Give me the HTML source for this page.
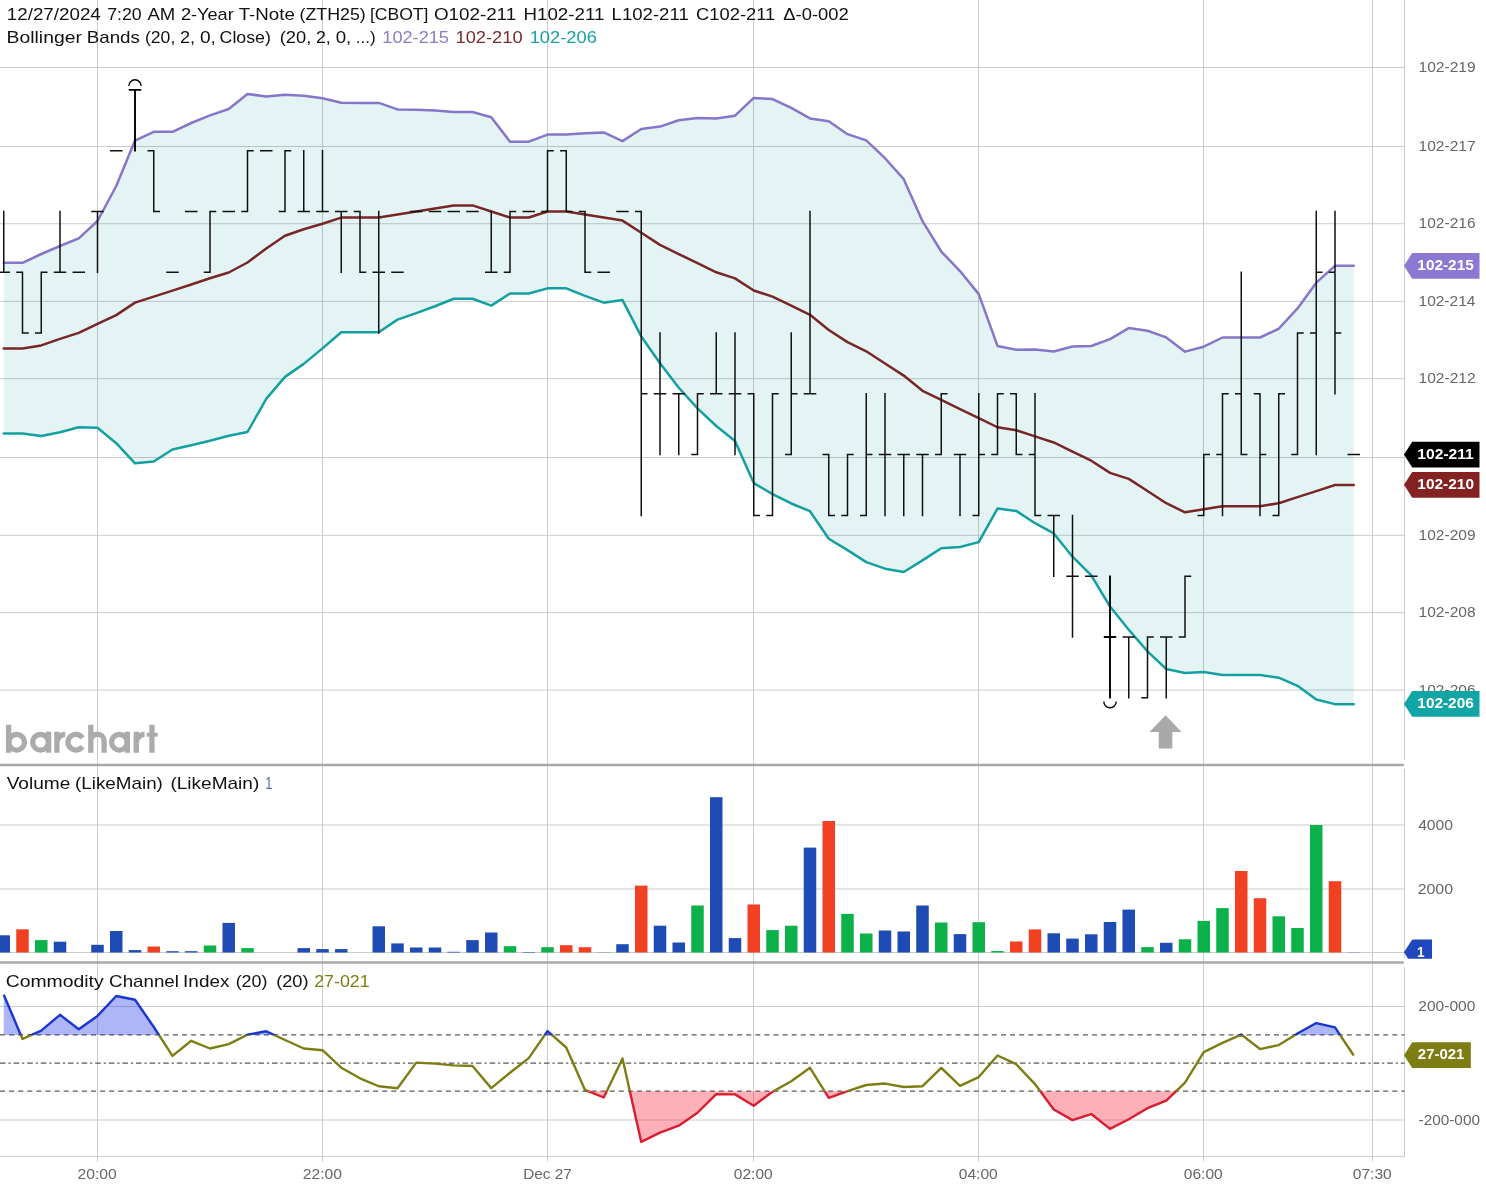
<!DOCTYPE html>
<html><head><meta charset="utf-8"><title>Chart</title><style>html,body{margin:0;padding:0;background:#fff}body{width:1486px;height:1191px;overflow:hidden}svg{display:block;will-change:transform}</style></head><body>
<svg width="1486" height="1191" viewBox="0 0 1486 1191" font-family="Liberation Sans, sans-serif">
<rect width="1486" height="1191" fill="#fff"/>
<g stroke="#cbcbcb" stroke-width="1" fill="none">
<path d="M0 67.5H1404.0"/>
<path d="M0 146.5H1404.0"/>
<path d="M0 223.74H1404.0"/>
<path d="M0 301.4H1404.0"/>
<path d="M0 378.7H1404.0"/>
<path d="M0 457.5H1404.0"/>
<path d="M0 535.3H1404.0"/>
<path d="M0 612.6H1404.0"/>
<path d="M0 690.0H1404.0"/>
<path d="M0 825.0H1404.0"/>
<path d="M0 889.0H1404.0"/>
<path d="M0 952.5H1404.0"/>
<path d="M0 1006.5H1404.0"/>
<path d="M0 1120.0H1404.0"/>
<path d="M97.5 0V1161.5"/>
<path d="M322.5 0V1161.5"/>
<path d="M547.5 0V1161.5"/>
<path d="M753.5 0V1161.5"/>
<path d="M978.5 0V1161.5"/>
<path d="M1203.5 0V1161.5"/>
<path d="M1372.5 0V1161.5"/>
</g>
<polygon points="3.75,262.80 22.50,262.80 41.25,254.00 60.00,246.00 78.75,238.30 97.50,221.00 116.25,186.00 135.00,140.60 153.75,131.80 172.50,131.80 191.25,123.00 210.00,115.40 228.75,109.00 247.50,94.00 266.25,96.50 285.00,94.80 303.75,95.80 322.50,98.30 341.25,102.80 360.00,102.88 378.75,102.88 397.50,109.42 416.25,109.78 435.00,110.62 453.75,112.03 472.50,112.03 491.25,117.32 510.00,141.64 528.75,141.64 547.50,134.60 566.25,134.60 585.00,133.20 603.75,132.47 622.50,141.12 641.25,129.07 660.00,126.58 678.75,120.31 697.50,117.91 716.25,118.50 735.00,115.70 753.75,97.91 772.50,99.06 791.25,107.90 810.00,118.42 828.75,121.30 847.50,134.17 866.25,140.38 885.00,158.21 903.75,179.20 922.50,221.14 941.25,251.52 960.00,271.08 978.75,294.16 997.50,345.93 1016.25,349.65 1035.00,349.55 1053.75,351.48 1072.50,346.46 1091.25,346.00 1110.00,339.12 1128.75,328.06 1147.50,330.72 1166.25,337.44 1185.00,351.65 1203.75,346.67 1222.50,337.50 1241.25,337.50 1260.00,337.50 1278.75,328.75 1297.50,308.43 1316.25,282.64 1335.00,265.84 1353.75,265.84 1353.75,704.14 1335.00,704.14 1316.25,699.50 1297.50,685.86 1278.75,677.70 1260.00,675.03 1241.25,675.03 1222.50,675.03 1203.75,671.94 1185.00,673.03 1166.25,669.01 1147.50,651.42 1128.75,629.76 1110.00,606.55 1091.25,575.36 1072.50,556.66 1053.75,533.41 1035.00,523.18 1016.25,510.92 997.50,508.57 978.75,542.10 960.00,546.95 941.25,548.28 922.50,560.42 903.75,571.97 885.00,568.65 866.25,562.17 847.50,550.15 828.75,538.70 810.00,511.19 791.25,503.48 772.50,494.08 753.75,483.08 735.00,440.97 716.25,426.02 697.50,408.38 678.75,387.74 660.00,363.24 641.25,336.44 622.50,300.08 603.75,302.65 585.00,295.84 566.25,288.36 547.50,288.36 528.75,293.47 510.00,293.47 491.25,305.64 472.50,298.77 453.75,298.77 435.00,306.26 416.25,313.18 397.50,319.62 378.75,332.24 360.00,332.24 341.25,332.20 322.50,348.40 303.75,363.90 285.00,376.90 266.25,398.90 247.50,432.00 228.75,435.70 210.00,440.70 191.25,445.20 172.50,449.50 153.75,461.50 135.00,463.30 116.25,443.20 97.50,427.70 78.75,427.20 60.00,432.20 41.25,436.00 22.50,433.50 3.75,433.50" fill="#0096a0" fill-opacity="0.105"/>
<polyline points="3.75,262.80 22.50,262.80 41.25,254.00 60.00,246.00 78.75,238.30 97.50,221.00 116.25,186.00 135.00,140.60 153.75,131.80 172.50,131.80 191.25,123.00 210.00,115.40 228.75,109.00 247.50,94.00 266.25,96.50 285.00,94.80 303.75,95.80 322.50,98.30 341.25,102.80 360.00,102.88 378.75,102.88 397.50,109.42 416.25,109.78 435.00,110.62 453.75,112.03 472.50,112.03 491.25,117.32 510.00,141.64 528.75,141.64 547.50,134.60 566.25,134.60 585.00,133.20 603.75,132.47 622.50,141.12 641.25,129.07 660.00,126.58 678.75,120.31 697.50,117.91 716.25,118.50 735.00,115.70 753.75,97.91 772.50,99.06 791.25,107.90 810.00,118.42 828.75,121.30 847.50,134.17 866.25,140.38 885.00,158.21 903.75,179.20 922.50,221.14 941.25,251.52 960.00,271.08 978.75,294.16 997.50,345.93 1016.25,349.65 1035.00,349.55 1053.75,351.48 1072.50,346.46 1091.25,346.00 1110.00,339.12 1128.75,328.06 1147.50,330.72 1166.25,337.44 1185.00,351.65 1203.75,346.67 1222.50,337.50 1241.25,337.50 1260.00,337.50 1278.75,328.75 1297.50,308.43 1316.25,282.64 1335.00,265.84 1353.75,265.84" fill="none" stroke="#8676c8" stroke-width="2.5" stroke-linejoin="round" stroke-linecap="round"/>
<polyline points="3.75,433.50 22.50,433.50 41.25,436.00 60.00,432.20 78.75,427.20 97.50,427.70 116.25,443.20 135.00,463.30 153.75,461.50 172.50,449.50 191.25,445.20 210.00,440.70 228.75,435.70 247.50,432.00 266.25,398.90 285.00,376.90 303.75,363.90 322.50,348.40 341.25,332.20 360.00,332.24 378.75,332.24 397.50,319.62 416.25,313.18 435.00,306.26 453.75,298.77 472.50,298.77 491.25,305.64 510.00,293.47 528.75,293.47 547.50,288.36 566.25,288.36 585.00,295.84 603.75,302.65 622.50,300.08 641.25,336.44 660.00,363.24 678.75,387.74 697.50,408.38 716.25,426.02 735.00,440.97 753.75,483.08 772.50,494.08 791.25,503.48 810.00,511.19 828.75,538.70 847.50,550.15 866.25,562.17 885.00,568.65 903.75,571.97 922.50,560.42 941.25,548.28 960.00,546.95 978.75,542.10 997.50,508.57 1016.25,510.92 1035.00,523.18 1053.75,533.41 1072.50,556.66 1091.25,575.36 1110.00,606.55 1128.75,629.76 1147.50,651.42 1166.25,669.01 1185.00,673.03 1203.75,671.94 1222.50,675.03 1241.25,675.03 1260.00,675.03 1278.75,677.70 1297.50,685.86 1316.25,699.50 1335.00,704.14 1353.75,704.14" fill="none" stroke="#14a0a0" stroke-width="2.5" stroke-linejoin="round" stroke-linecap="round"/>
<polyline points="3.75,348.40 22.50,348.40 41.25,345.40 60.00,338.90 78.75,332.90 97.50,323.80 116.25,315.10 135.00,302.60 153.75,296.60 172.50,290.60 191.25,284.50 210.00,278.30 228.75,272.50 247.50,262.50 266.25,248.50 285.00,235.80 303.75,229.30 322.50,223.70 341.25,217.60 360.00,217.56 378.75,217.56 397.50,214.52 416.25,211.48 435.00,208.44 453.75,205.40 472.50,205.40 491.25,211.48 510.00,217.56 528.75,217.56 547.50,211.48 566.25,211.48 585.00,214.52 603.75,217.56 622.50,220.60 641.25,232.75 660.00,244.91 678.75,254.03 697.50,263.14 716.25,272.26 735.00,278.34 753.75,290.49 772.50,296.57 791.25,305.69 810.00,314.81 828.75,330.00 847.50,342.16 866.25,351.27 885.00,363.43 903.75,375.59 922.50,390.78 941.25,399.90 960.00,409.02 978.75,418.13 997.50,427.25 1016.25,430.29 1035.00,436.37 1053.75,442.44 1072.50,451.56 1091.25,460.68 1110.00,472.83 1128.75,478.91 1147.50,491.07 1166.25,503.22 1185.00,512.34 1203.75,509.30 1222.50,506.26 1241.25,506.26 1260.00,506.26 1278.75,503.22 1297.50,497.15 1316.25,491.07 1335.00,484.99 1353.75,484.99" fill="none" stroke="#782626" stroke-width="2.5" stroke-linejoin="round" stroke-linecap="round"/>
<path d="M3.75 210.73V273.01M-2.50 272.26H3.75M3.75 272.26H10.00M22.50 271.51V333.79M16.25 272.26H22.50M22.50 333.04H28.75M41.25 271.51V333.79M35.00 333.04H41.25M41.25 272.26H47.50M60.00 210.73V273.01M53.75 272.26H60.00M60.00 272.26H66.25M72.50 272.26H78.75M78.75 272.26H85.00M97.50 210.73V273.01M91.25 211.48H97.50M97.50 211.48H103.75M110.00 150.70H116.25M116.25 150.70H122.50M153.75 149.95V212.23M147.50 150.70H153.75M153.75 211.48H160.00M166.25 272.26H172.50M172.50 272.26H178.75M185.00 211.48H191.25M191.25 211.48H197.50M210.00 210.73V273.01M203.75 272.26H210.00M210.00 211.48H216.25M222.50 211.48H228.75M228.75 211.48H235.00M247.50 149.95V212.23M241.25 211.48H247.50M247.50 150.70H253.75M260.00 150.70H266.25M266.25 150.70H272.50M285.00 149.95V212.23M278.75 211.48H285.00M285.00 150.70H291.25M303.75 149.95V212.23M297.50 211.48H303.75M303.75 211.48H310.00M322.50 149.95V212.23M316.25 211.48H322.50M322.50 211.48H328.75M341.25 210.73V273.01M335.00 211.48H341.25M341.25 211.48H347.50M360.00 210.73V273.01M353.75 211.48H360.00M360.00 272.26H366.25M378.75 210.73V333.79M372.50 272.26H378.75M378.75 272.26H385.00M391.25 272.26H397.50M397.50 272.26H403.75M410.00 211.48H416.25M416.25 211.48H422.50M428.75 211.48H435.00M435.00 211.48H441.25M447.50 211.48H453.75M453.75 211.48H460.00M466.25 211.48H472.50M472.50 211.48H478.75M491.25 210.73V273.01M485.00 272.26H491.25M491.25 272.26H497.50M510.00 210.73V273.01M503.75 272.26H510.00M510.00 211.48H516.25M522.50 211.48H528.75M528.75 211.48H535.00M547.50 149.95V212.23M541.25 211.48H547.50M547.50 150.70H553.75M566.25 149.95V212.23M560.00 150.70H566.25M566.25 211.48H572.50M585.00 210.73V273.01M578.75 211.48H585.00M585.00 272.26H591.25M597.50 272.26H603.75M603.75 272.26H610.00M616.25 211.48H622.50M622.50 211.48H628.75M641.25 210.73V516.13M635.00 211.48H641.25M641.25 393.82H647.50M660.00 332.29V455.35M653.75 393.82H660.00M660.00 393.82H666.25M678.75 393.07V455.35M672.50 393.82H678.75M678.75 393.82H685.00M697.50 393.07V455.35M691.25 454.60H697.50M697.50 393.82H703.75M716.25 332.29V394.57M710.00 393.82H716.25M716.25 393.82H722.50M735.00 332.29V455.35M728.75 393.82H735.00M735.00 393.82H741.25M753.75 393.07V516.13M747.50 393.82H753.75M753.75 515.38H760.00M772.50 393.07V516.13M766.25 515.38H772.50M772.50 393.82H778.75M791.25 332.29V455.35M785.00 454.60H791.25M791.25 393.82H797.50M810.00 210.73V394.57M803.75 393.82H810.00M810.00 393.82H816.25M828.75 453.85V516.13M822.50 454.60H828.75M828.75 515.38H835.00M847.50 453.85V516.13M841.25 515.38H847.50M847.50 454.60H853.75M866.25 393.07V516.13M860.00 515.38H866.25M866.25 454.60H872.50M885.00 393.07V516.13M878.75 454.60H885.00M885.00 454.60H891.25M903.75 453.85V516.13M897.50 454.60H903.75M903.75 454.60H910.00M922.50 453.85V516.13M916.25 454.60H922.50M922.50 454.60H928.75M941.25 393.07V455.35M935.00 454.60H941.25M941.25 393.82H947.50M960.00 453.85V516.13M953.75 454.60H960.00M960.00 454.60H966.25M978.75 393.07V516.13M972.50 515.38H978.75M978.75 454.60H985.00M997.50 393.07V455.35M991.25 454.60H997.50M997.50 393.82H1003.75M1016.25 393.07V455.35M1010.00 393.82H1016.25M1016.25 454.60H1022.50M1035.00 393.07V516.13M1028.75 454.60H1035.00M1035.00 515.38H1041.25M1053.75 514.63V576.91M1047.50 515.38H1053.75M1053.75 515.38H1060.00M1072.50 514.63V637.69M1066.25 576.16H1072.50M1072.50 576.16H1078.75M1085.00 576.16H1091.25M1091.25 576.16H1097.50M1128.75 636.19V698.47M1122.50 636.94H1128.75M1128.75 636.94H1135.00M1147.50 636.19V698.47M1141.25 697.72H1147.50M1147.50 636.94H1153.75M1166.25 636.19V698.47M1160.00 636.94H1166.25M1166.25 636.94H1172.50M1185.00 575.41V637.69M1178.75 636.94H1185.00M1185.00 576.16H1191.25M1203.75 453.85V516.13M1197.50 515.38H1203.75M1203.75 454.60H1210.00M1222.50 393.07V516.13M1216.25 454.60H1222.50M1222.50 393.82H1228.75M1241.25 271.51V455.35M1235.00 393.82H1241.25M1241.25 454.60H1247.50M1260.00 393.07V516.13M1253.75 393.82H1260.00M1260.00 454.60H1266.25M1278.75 393.07V516.13M1272.50 515.38H1278.75M1278.75 393.82H1285.00M1297.50 332.29V455.35M1291.25 454.60H1297.50M1297.50 333.04H1303.75M1316.25 210.73V455.35M1310.00 333.04H1316.25M1316.25 272.26H1322.50M1335.00 210.73V394.57M1328.75 272.26H1335.00M1335.00 333.04H1341.25M1347.50 454.60H1353.75M1353.75 454.60H1360.00" stroke="#111" stroke-width="1.5" fill="none"/>
<path d="M135.00 89.17V151.45M128.75 89.92H135.00M135.00 89.92H141.25M1110.00 575.41V698.47M1103.75 636.94H1110.00M1110.00 636.94H1116.25" stroke="#000" stroke-width="1.9" fill="none"/>
<path d="M128.8 86.02000000000001A6.2 6.2 0 0 1 141.2 86.02000000000001" stroke="#000" stroke-width="1.4" fill="none"/>
<path d="M1103.8 701.62A6.2 6.2 0 0 0 1116.2 701.62" stroke="#000" stroke-width="1.4" fill="none"/>
<path d="M1165.55 715.3L1181.55 732H1172.35V748.6H1158.75V732H1149.55Z" fill="#a9a9a9"/>
<g stroke="#ababab" stroke-width="5.3" fill="none">
<path d="M8.6 724.8V752.75"/>
<circle cx="16.65" cy="742.2" r="7.85"/>
<circle cx="40.5" cy="742.2" r="7.85"/>
<path d="M48.6 731.65V752.75"/>
<path d="M56.9 731.65V752.75M56.9 743A8.3 8.7 0 0 1 65.2 734.3"/>
<path d="M82.43 737.92A7.85 7.85 0 1 0 82.43 746.48"/>
<path d="M90.8 724.8V752.75M90.8 740.9A6.65 6.65 0 0 1 104.1 740.9V752.75"/>
<circle cx="119.4" cy="742.2" r="7.85"/>
<path d="M127.4 731.65V752.75"/>
<path d="M136.3 731.65V752.75M136.3 743A8.3 8.7 0 0 1 144.6 734.3"/>
<path d="M151.95 724.8V752.75"/><path d="M146.6 734.7H157.7" stroke-width="3.9"/>
</g>
<g stroke="#a9a9a9" stroke-width="2.7" fill="none"><path d="M0 765H1403.8"/><path d="M0 962.5H1403.8"/></g>
<g stroke="#cbcbcb" stroke-width="1" fill="none" shape-rendering="crispEdges"><path d="M1404.5 0V760M1404.5 769V958M1404.5 967V1157"/></g><path d="M0 1156.3H1405.0" stroke="#cbcbcb" stroke-width="1" fill="none"/>
<rect x="-2.50" y="935.30" width="12.5" height="17.20" fill="#1e4bb4"/>
<rect x="16.25" y="929.30" width="12.5" height="23.20" fill="#f04123"/>
<rect x="35.00" y="940.10" width="12.5" height="12.40" fill="#0cb14a"/>
<rect x="53.75" y="941.70" width="12.5" height="10.80" fill="#1e4bb4"/>
<rect x="91.25" y="944.80" width="12.5" height="7.70" fill="#1e4bb4"/>
<rect x="110.00" y="931.00" width="12.5" height="21.50" fill="#1e4bb4"/>
<rect x="128.75" y="950.10" width="12.5" height="2.40" fill="#1e4bb4"/>
<rect x="147.50" y="946.50" width="12.5" height="6.00" fill="#f04123"/>
<rect x="166.25" y="951.20" width="12.5" height="1.30" fill="#1e4bb4"/>
<rect x="185.00" y="951.20" width="12.5" height="1.30" fill="#1e4bb4"/>
<rect x="203.75" y="945.50" width="12.5" height="7.00" fill="#0cb14a"/>
<rect x="222.50" y="922.90" width="12.5" height="29.60" fill="#1e4bb4"/>
<rect x="241.25" y="948.10" width="12.5" height="4.40" fill="#0cb14a"/>
<rect x="297.50" y="948.10" width="12.5" height="4.40" fill="#1e4bb4"/>
<rect x="316.25" y="949.10" width="12.5" height="3.40" fill="#1e4bb4"/>
<rect x="335.00" y="949.10" width="12.5" height="3.40" fill="#1e4bb4"/>
<rect x="372.50" y="926.30" width="12.5" height="26.20" fill="#1e4bb4"/>
<rect x="391.25" y="943.40" width="12.5" height="9.10" fill="#1e4bb4"/>
<rect x="410.00" y="947.50" width="12.5" height="5.00" fill="#1e4bb4"/>
<rect x="428.75" y="947.50" width="12.5" height="5.00" fill="#1e4bb4"/>
<rect x="447.50" y="951.80" width="12.5" height="0.70" fill="#1e4bb4"/>
<rect x="466.25" y="940.10" width="12.5" height="12.40" fill="#1e4bb4"/>
<rect x="485.00" y="932.50" width="12.5" height="20.00" fill="#1e4bb4"/>
<rect x="503.75" y="946.20" width="12.5" height="6.30" fill="#0cb14a"/>
<rect x="522.50" y="952.00" width="12.5" height="0.50" fill="#1e4bb4"/>
<rect x="541.25" y="947.20" width="12.5" height="5.30" fill="#0cb14a"/>
<rect x="560.00" y="945.20" width="12.5" height="7.30" fill="#f04123"/>
<rect x="578.75" y="947.20" width="12.5" height="5.30" fill="#f04123"/>
<rect x="597.50" y="952.30" width="12.5" height="0.20" fill="#1e4bb4"/>
<rect x="616.25" y="944.20" width="12.5" height="8.30" fill="#1e4bb4"/>
<rect x="635.00" y="885.60" width="12.5" height="66.90" fill="#f04123"/>
<rect x="653.75" y="925.70" width="12.5" height="26.80" fill="#1e4bb4"/>
<rect x="672.50" y="942.50" width="12.5" height="10.00" fill="#1e4bb4"/>
<rect x="691.25" y="905.50" width="12.5" height="47.00" fill="#0cb14a"/>
<rect x="710.00" y="797.20" width="12.5" height="155.30" fill="#1e4bb4"/>
<rect x="728.75" y="938.10" width="12.5" height="14.40" fill="#1e4bb4"/>
<rect x="747.50" y="904.50" width="12.5" height="48.00" fill="#f04123"/>
<rect x="766.25" y="930.10" width="12.5" height="22.40" fill="#0cb14a"/>
<rect x="785.00" y="925.70" width="12.5" height="26.80" fill="#0cb14a"/>
<rect x="803.75" y="847.60" width="12.5" height="104.90" fill="#1e4bb4"/>
<rect x="822.50" y="821.00" width="12.5" height="131.50" fill="#f04123"/>
<rect x="841.25" y="913.90" width="12.5" height="38.60" fill="#0cb14a"/>
<rect x="860.00" y="933.50" width="12.5" height="19.00" fill="#0cb14a"/>
<rect x="878.75" y="930.50" width="12.5" height="22.00" fill="#1e4bb4"/>
<rect x="897.50" y="931.50" width="12.5" height="21.00" fill="#1e4bb4"/>
<rect x="916.25" y="905.50" width="12.5" height="47.00" fill="#1e4bb4"/>
<rect x="935.00" y="922.50" width="12.5" height="30.00" fill="#0cb14a"/>
<rect x="953.75" y="934.10" width="12.5" height="18.40" fill="#1e4bb4"/>
<rect x="972.50" y="922.20" width="12.5" height="30.30" fill="#0cb14a"/>
<rect x="991.25" y="951.00" width="12.5" height="1.50" fill="#0cb14a"/>
<rect x="1010.00" y="941.50" width="12.5" height="11.00" fill="#f04123"/>
<rect x="1028.75" y="929.40" width="12.5" height="23.10" fill="#f04123"/>
<rect x="1047.50" y="933.30" width="12.5" height="19.20" fill="#1e4bb4"/>
<rect x="1066.25" y="938.60" width="12.5" height="13.90" fill="#1e4bb4"/>
<rect x="1085.00" y="934.30" width="12.5" height="18.20" fill="#1e4bb4"/>
<rect x="1103.75" y="922.00" width="12.5" height="30.50" fill="#1e4bb4"/>
<rect x="1122.50" y="909.60" width="12.5" height="42.90" fill="#1e4bb4"/>
<rect x="1141.25" y="947.10" width="12.5" height="5.40" fill="#0cb14a"/>
<rect x="1160.00" y="942.80" width="12.5" height="9.70" fill="#1e4bb4"/>
<rect x="1178.75" y="939.30" width="12.5" height="13.20" fill="#0cb14a"/>
<rect x="1197.50" y="920.90" width="12.5" height="31.60" fill="#0cb14a"/>
<rect x="1216.25" y="908.10" width="12.5" height="44.40" fill="#0cb14a"/>
<rect x="1235.00" y="871.00" width="12.5" height="81.50" fill="#f04123"/>
<rect x="1253.75" y="898.20" width="12.5" height="54.30" fill="#f04123"/>
<rect x="1272.50" y="916.30" width="12.5" height="36.20" fill="#0cb14a"/>
<rect x="1291.25" y="928.00" width="12.5" height="24.50" fill="#0cb14a"/>
<rect x="1310.00" y="825.00" width="12.5" height="127.50" fill="#0cb14a"/>
<rect x="1328.75" y="881.20" width="12.5" height="71.30" fill="#f04123"/>
<rect x="1347.50" y="952.30" width="12.5" height="0.20" fill="#1e4bb4"/>
<g stroke="#5a5a5a" stroke-width="1.2" fill="none">
<path d="M0 1034.9H1404.5" stroke-dasharray="5 4.1"/>
<path d="M0 1091.2H1404.5" stroke-dasharray="5 4.1"/>
<path d="M0 1063.1H1404.5" stroke-dasharray="5.6 2.9 2.2 2.9"/>
</g>
<clipPath id="cu"><rect x="0" y="960" width="1404.5" height="74.95"/></clipPath>
<clipPath id="cd"><rect x="0" y="1091.25" width="1404.5" height="64.75"/></clipPath>
<clipPath id="cm"><rect x="0" y="1034.95" width="1404.5" height="56.30"/></clipPath>
<polygon points="3.75,1063.1 3.75,994.70 22.50,1039.00 41.25,1030.70 60.00,1014.80 78.75,1029.30 97.50,1015.90 116.25,996.00 135.00,999.70 153.75,1027.00 172.50,1055.90 191.25,1040.80 210.00,1048.50 228.75,1044.10 247.50,1034.70 266.25,1031.30 285.00,1040.00 303.75,1048.50 322.50,1050.20 341.25,1067.70 360.00,1078.29 378.75,1086.23 397.50,1088.27 416.25,1062.59 435.00,1063.63 453.75,1065.39 472.50,1066.03 491.25,1088.12 510.00,1072.76 528.75,1058.12 547.50,1031.06 566.25,1047.52 585.00,1089.91 603.75,1097.51 622.50,1058.47 641.25,1141.94 660.00,1132.56 678.75,1125.66 697.50,1112.77 716.25,1094.17 735.00,1094.38 753.75,1105.70 772.50,1091.79 791.25,1081.21 810.00,1067.79 828.75,1097.82 847.50,1091.09 866.25,1084.99 885.00,1083.56 903.75,1086.97 922.50,1086.22 941.25,1067.91 960.00,1085.85 978.75,1077.08 997.50,1055.49 1016.25,1064.20 1035.00,1084.07 1053.75,1109.51 1072.50,1120.14 1091.25,1114.04 1110.00,1128.91 1128.75,1119.27 1147.50,1108.21 1166.25,1100.73 1185.00,1082.69 1203.75,1052.14 1222.50,1042.89 1241.25,1034.56 1260.00,1049.07 1278.75,1045.09 1297.50,1033.55 1316.25,1023.07 1335.00,1027.41 1353.75,1055.48 1353.75,1063.1" fill="#182ee8" fill-opacity="0.35" clip-path="url(#cu)"/>
<polygon points="3.75,1063.1 3.75,994.70 22.50,1039.00 41.25,1030.70 60.00,1014.80 78.75,1029.30 97.50,1015.90 116.25,996.00 135.00,999.70 153.75,1027.00 172.50,1055.90 191.25,1040.80 210.00,1048.50 228.75,1044.10 247.50,1034.70 266.25,1031.30 285.00,1040.00 303.75,1048.50 322.50,1050.20 341.25,1067.70 360.00,1078.29 378.75,1086.23 397.50,1088.27 416.25,1062.59 435.00,1063.63 453.75,1065.39 472.50,1066.03 491.25,1088.12 510.00,1072.76 528.75,1058.12 547.50,1031.06 566.25,1047.52 585.00,1089.91 603.75,1097.51 622.50,1058.47 641.25,1141.94 660.00,1132.56 678.75,1125.66 697.50,1112.77 716.25,1094.17 735.00,1094.38 753.75,1105.70 772.50,1091.79 791.25,1081.21 810.00,1067.79 828.75,1097.82 847.50,1091.09 866.25,1084.99 885.00,1083.56 903.75,1086.97 922.50,1086.22 941.25,1067.91 960.00,1085.85 978.75,1077.08 997.50,1055.49 1016.25,1064.20 1035.00,1084.07 1053.75,1109.51 1072.50,1120.14 1091.25,1114.04 1110.00,1128.91 1128.75,1119.27 1147.50,1108.21 1166.25,1100.73 1185.00,1082.69 1203.75,1052.14 1222.50,1042.89 1241.25,1034.56 1260.00,1049.07 1278.75,1045.09 1297.50,1033.55 1316.25,1023.07 1335.00,1027.41 1353.75,1055.48 1353.75,1063.1" fill="#fa1e32" fill-opacity="0.35" clip-path="url(#cd)"/>
<polyline points="3.75,994.70 22.50,1039.00 41.25,1030.70 60.00,1014.80 78.75,1029.30 97.50,1015.90 116.25,996.00 135.00,999.70 153.75,1027.00 172.50,1055.90 191.25,1040.80 210.00,1048.50 228.75,1044.10 247.50,1034.70 266.25,1031.30 285.00,1040.00 303.75,1048.50 322.50,1050.20 341.25,1067.70 360.00,1078.29 378.75,1086.23 397.50,1088.27 416.25,1062.59 435.00,1063.63 453.75,1065.39 472.50,1066.03 491.25,1088.12 510.00,1072.76 528.75,1058.12 547.50,1031.06 566.25,1047.52 585.00,1089.91 603.75,1097.51 622.50,1058.47 641.25,1141.94 660.00,1132.56 678.75,1125.66 697.50,1112.77 716.25,1094.17 735.00,1094.38 753.75,1105.70 772.50,1091.79 791.25,1081.21 810.00,1067.79 828.75,1097.82 847.50,1091.09 866.25,1084.99 885.00,1083.56 903.75,1086.97 922.50,1086.22 941.25,1067.91 960.00,1085.85 978.75,1077.08 997.50,1055.49 1016.25,1064.20 1035.00,1084.07 1053.75,1109.51 1072.50,1120.14 1091.25,1114.04 1110.00,1128.91 1128.75,1119.27 1147.50,1108.21 1166.25,1100.73 1185.00,1082.69 1203.75,1052.14 1222.50,1042.89 1241.25,1034.56 1260.00,1049.07 1278.75,1045.09 1297.50,1033.55 1316.25,1023.07 1335.00,1027.41 1353.75,1055.48" fill="none" stroke="#7d7d14" stroke-width="2.4" stroke-linejoin="round" clip-path="url(#cm)"/>
<polyline points="3.75,994.70 22.50,1039.00 41.25,1030.70 60.00,1014.80 78.75,1029.30 97.50,1015.90 116.25,996.00 135.00,999.70 153.75,1027.00 172.50,1055.90 191.25,1040.80 210.00,1048.50 228.75,1044.10 247.50,1034.70 266.25,1031.30 285.00,1040.00 303.75,1048.50 322.50,1050.20 341.25,1067.70 360.00,1078.29 378.75,1086.23 397.50,1088.27 416.25,1062.59 435.00,1063.63 453.75,1065.39 472.50,1066.03 491.25,1088.12 510.00,1072.76 528.75,1058.12 547.50,1031.06 566.25,1047.52 585.00,1089.91 603.75,1097.51 622.50,1058.47 641.25,1141.94 660.00,1132.56 678.75,1125.66 697.50,1112.77 716.25,1094.17 735.00,1094.38 753.75,1105.70 772.50,1091.79 791.25,1081.21 810.00,1067.79 828.75,1097.82 847.50,1091.09 866.25,1084.99 885.00,1083.56 903.75,1086.97 922.50,1086.22 941.25,1067.91 960.00,1085.85 978.75,1077.08 997.50,1055.49 1016.25,1064.20 1035.00,1084.07 1053.75,1109.51 1072.50,1120.14 1091.25,1114.04 1110.00,1128.91 1128.75,1119.27 1147.50,1108.21 1166.25,1100.73 1185.00,1082.69 1203.75,1052.14 1222.50,1042.89 1241.25,1034.56 1260.00,1049.07 1278.75,1045.09 1297.50,1033.55 1316.25,1023.07 1335.00,1027.41 1353.75,1055.48" fill="none" stroke="#1a36d2" stroke-width="2.4" stroke-linejoin="round" clip-path="url(#cu)"/>
<polyline points="3.75,994.70 22.50,1039.00 41.25,1030.70 60.00,1014.80 78.75,1029.30 97.50,1015.90 116.25,996.00 135.00,999.70 153.75,1027.00 172.50,1055.90 191.25,1040.80 210.00,1048.50 228.75,1044.10 247.50,1034.70 266.25,1031.30 285.00,1040.00 303.75,1048.50 322.50,1050.20 341.25,1067.70 360.00,1078.29 378.75,1086.23 397.50,1088.27 416.25,1062.59 435.00,1063.63 453.75,1065.39 472.50,1066.03 491.25,1088.12 510.00,1072.76 528.75,1058.12 547.50,1031.06 566.25,1047.52 585.00,1089.91 603.75,1097.51 622.50,1058.47 641.25,1141.94 660.00,1132.56 678.75,1125.66 697.50,1112.77 716.25,1094.17 735.00,1094.38 753.75,1105.70 772.50,1091.79 791.25,1081.21 810.00,1067.79 828.75,1097.82 847.50,1091.09 866.25,1084.99 885.00,1083.56 903.75,1086.97 922.50,1086.22 941.25,1067.91 960.00,1085.85 978.75,1077.08 997.50,1055.49 1016.25,1064.20 1035.00,1084.07 1053.75,1109.51 1072.50,1120.14 1091.25,1114.04 1110.00,1128.91 1128.75,1119.27 1147.50,1108.21 1166.25,1100.73 1185.00,1082.69 1203.75,1052.14 1222.50,1042.89 1241.25,1034.56 1260.00,1049.07 1278.75,1045.09 1297.50,1033.55 1316.25,1023.07 1335.00,1027.41 1353.75,1055.48" fill="none" stroke="#d81e30" stroke-width="2.4" stroke-linejoin="round" clip-path="url(#cd)"/>
<text x="6.83" y="19.8" font-size="17" fill="#111" font-weight="normal" textLength="93.94" lengthAdjust="spacingAndGlyphs">12/27/2024</text>
<text x="107.17" y="19.8" font-size="17" fill="#111" font-weight="normal" textLength="34.47" lengthAdjust="spacingAndGlyphs">7:20</text>
<text x="147.40" y="19.8" font-size="17" fill="#111" font-weight="normal" textLength="27.85" lengthAdjust="spacingAndGlyphs">AM</text>
<text x="180.95" y="19.8" font-size="17" fill="#111" font-weight="normal" textLength="52.74" lengthAdjust="spacingAndGlyphs">2-Year</text>
<text x="238.71" y="19.8" font-size="17" fill="#111" font-weight="normal" textLength="56.15" lengthAdjust="spacingAndGlyphs">T-Note</text>
<text x="299.47" y="19.8" font-size="17" fill="#111" font-weight="normal" textLength="66.26" lengthAdjust="spacingAndGlyphs">(ZTH25)</text>
<text x="370.00" y="19.8" font-size="17" fill="#111" font-weight="normal" textLength="58.43" lengthAdjust="spacingAndGlyphs">[CBOT]</text>
<text x="433.92" y="19.8" font-size="17" fill="#111" font-weight="normal" textLength="82.24" lengthAdjust="spacingAndGlyphs">O102-211</text>
<text x="523.54" y="19.8" font-size="17" fill="#111" font-weight="normal" textLength="80.82" lengthAdjust="spacingAndGlyphs">H102-211</text>
<text x="611.55" y="19.8" font-size="17" fill="#111" font-weight="normal" textLength="77.21" lengthAdjust="spacingAndGlyphs">L102-211</text>
<text x="696.14" y="19.8" font-size="17" fill="#111" font-weight="normal" textLength="79.10" lengthAdjust="spacingAndGlyphs">C102-211</text>
<text x="783.31" y="19.8" font-size="17" fill="#111" font-weight="normal" textLength="65.43" lengthAdjust="spacingAndGlyphs">&#916;-0-002</text>
<text x="6.59" y="42.8" font-size="17" fill="#111" font-weight="normal" textLength="75.31" lengthAdjust="spacingAndGlyphs">Bollinger</text>
<text x="86.74" y="42.8" font-size="17" fill="#111" font-weight="normal" textLength="53.15" lengthAdjust="spacingAndGlyphs">Bands</text>
<text x="144.97" y="42.8" font-size="17" fill="#111" font-weight="normal" textLength="30.34" lengthAdjust="spacingAndGlyphs">(20,</text>
<text x="179.95" y="42.8" font-size="17" fill="#111" font-weight="normal" textLength="15.10" lengthAdjust="spacingAndGlyphs">2,</text>
<text x="199.90" y="42.8" font-size="17" fill="#111" font-weight="normal" textLength="15.92" lengthAdjust="spacingAndGlyphs">0,</text>
<text x="219.57" y="42.8" font-size="17" fill="#111" font-weight="normal" textLength="51.35" lengthAdjust="spacingAndGlyphs">Close)</text>
<text x="279.74" y="42.8" font-size="17" fill="#111" font-weight="normal" textLength="31.52" lengthAdjust="spacingAndGlyphs">(20,</text>
<text x="315.96" y="42.8" font-size="17" fill="#111" font-weight="normal" textLength="14.87" lengthAdjust="spacingAndGlyphs">2,</text>
<text x="335.72" y="42.8" font-size="17" fill="#111" font-weight="normal" textLength="15.58" lengthAdjust="spacingAndGlyphs">0,</text>
<text x="355.77" y="42.8" font-size="17" fill="#111" font-weight="normal" textLength="19.92" lengthAdjust="spacingAndGlyphs">...)</text>
<text x="382.37" y="42.8" font-size="17" fill="#8a7cc9" font-weight="normal" textLength="66.57" lengthAdjust="spacingAndGlyphs">102-215</text>
<text x="455.56" y="42.8" font-size="17" fill="#7a2a2a" font-weight="normal" textLength="67.00" lengthAdjust="spacingAndGlyphs">102-210</text>
<text x="529.65" y="42.8" font-size="17" fill="#17a3a3" font-weight="normal" textLength="67.29" lengthAdjust="spacingAndGlyphs">102-206</text>
<text x="6.65" y="789" font-size="17" fill="#111" font-weight="normal" textLength="63.72" lengthAdjust="spacingAndGlyphs">Volume</text>
<text x="75.02" y="789" font-size="17" fill="#111" font-weight="normal" textLength="87.86" lengthAdjust="spacingAndGlyphs">(LikeMain)</text>
<text x="170.41" y="789" font-size="17" fill="#111" font-weight="normal" textLength="88.88" lengthAdjust="spacingAndGlyphs">(LikeMain)</text>
<text x="265.20" y="789" font-size="17" fill="#4a6fb5" font-weight="normal" textLength="7.12" lengthAdjust="spacingAndGlyphs">1</text>
<text x="5.74" y="986.7" font-size="17" fill="#111" font-weight="normal" textLength="97.86" lengthAdjust="spacingAndGlyphs">Commodity</text>
<text x="109.12" y="986.7" font-size="17" fill="#111" font-weight="normal" textLength="69.81" lengthAdjust="spacingAndGlyphs">Channel</text>
<text x="183.12" y="986.7" font-size="17" fill="#111" font-weight="normal" textLength="46.28" lengthAdjust="spacingAndGlyphs">Index</text>
<text x="235.66" y="986.7" font-size="17" fill="#111" font-weight="normal" textLength="31.76" lengthAdjust="spacingAndGlyphs">(20)</text>
<text x="276.15" y="986.7" font-size="17" fill="#111" font-weight="normal" textLength="32.40" lengthAdjust="spacingAndGlyphs">(20)</text>
<text x="314.16" y="986.7" font-size="17" fill="#7d7d14" font-weight="normal" textLength="55.56" lengthAdjust="spacingAndGlyphs">27-021</text>
<text x="1418.53" y="72.1" font-size="15.3" fill="#666" font-weight="normal" textLength="57.10" lengthAdjust="spacingAndGlyphs">102-219</text>
<text x="1418.53" y="151.1" font-size="15.3" fill="#666" font-weight="normal" textLength="57.10" lengthAdjust="spacingAndGlyphs">102-217</text>
<text x="1418.53" y="228.34" font-size="15.3" fill="#666" font-weight="normal" textLength="57.10" lengthAdjust="spacingAndGlyphs">102-216</text>
<text x="1418.53" y="306.0" font-size="15.3" fill="#666" font-weight="normal" textLength="56.85" lengthAdjust="spacingAndGlyphs">102-214</text>
<text x="1418.53" y="383.3" font-size="15.3" fill="#666" font-weight="normal" textLength="57.10" lengthAdjust="spacingAndGlyphs">102-212</text>
<text x="1418.51" y="462.1" font-size="15.3" fill="#666" font-weight="normal" textLength="57.14" lengthAdjust="spacingAndGlyphs">102-211</text>
<text x="1418.53" y="539.9" font-size="15.3" fill="#666" font-weight="normal" textLength="57.10" lengthAdjust="spacingAndGlyphs">102-209</text>
<text x="1418.53" y="617.2" font-size="15.3" fill="#666" font-weight="normal" textLength="57.10" lengthAdjust="spacingAndGlyphs">102-208</text>
<text x="1418.53" y="694.6" font-size="15.3" fill="#666" font-weight="normal" textLength="57.10" lengthAdjust="spacingAndGlyphs">102-206</text>
<text x="1418.15" y="829.6" font-size="15.3" fill="#666" font-weight="normal" textLength="34.94" lengthAdjust="spacingAndGlyphs">4000</text>
<text x="1417.65" y="893.6" font-size="15.3" fill="#666" font-weight="normal" textLength="35.44" lengthAdjust="spacingAndGlyphs">2000</text>
<text x="1418.27" y="1010.9" font-size="15.3" fill="#666" font-weight="normal" textLength="57.12" lengthAdjust="spacingAndGlyphs">200-000</text>
<text x="1418.52" y="1124.7" font-size="15.3" fill="#666" font-weight="normal" textLength="61.46" lengthAdjust="spacingAndGlyphs">-200-000</text>
<text x="77.52" y="1179" font-size="15.3" fill="#666" font-weight="normal" textLength="39.23" lengthAdjust="spacingAndGlyphs">20:00</text>
<text x="302.72" y="1179" font-size="15.3" fill="#666" font-weight="normal" textLength="39.23" lengthAdjust="spacingAndGlyphs">22:00</text>
<text x="523.15" y="1179" font-size="15.3" fill="#666" font-weight="normal" textLength="48.72" lengthAdjust="spacingAndGlyphs">Dec 27</text>
<text x="733.76" y="1179" font-size="15.3" fill="#666" font-weight="normal" textLength="38.97" lengthAdjust="spacingAndGlyphs">02:00</text>
<text x="958.76" y="1179" font-size="15.3" fill="#666" font-weight="normal" textLength="38.97" lengthAdjust="spacingAndGlyphs">04:00</text>
<text x="1183.76" y="1179" font-size="15.3" fill="#666" font-weight="normal" textLength="38.97" lengthAdjust="spacingAndGlyphs">06:00</text>
<text x="1352.76" y="1179" font-size="15.3" fill="#666" font-weight="normal" textLength="38.97" lengthAdjust="spacingAndGlyphs">07:30</text>
<path d="M1404 265.8L1412.2 252.95000000000002H1479.5V278.65000000000003H1412.2Z" fill="#8c78d2"/>
<text x="1417.34" y="270.0" font-size="15.3" fill="#fff" font-weight="bold" textLength="56.44" lengthAdjust="spacingAndGlyphs">102-215</text>
<path d="M1404 454.6L1412.2 441.75H1479.5V467.45000000000005H1412.2Z" fill="#000"/>
<text x="1417.32" y="458.8" font-size="15.3" fill="#fff" font-weight="bold" textLength="56.47" lengthAdjust="spacingAndGlyphs">102-211</text>
<path d="M1404 484.8L1412.2 471.95H1479.5V497.65000000000003H1412.2Z" fill="#842222"/>
<text x="1417.33" y="489.0" font-size="15.3" fill="#fff" font-weight="bold" textLength="56.69" lengthAdjust="spacingAndGlyphs">102-210</text>
<path d="M1404 703.9L1412.2 691.05H1479.5V716.75H1412.2Z" fill="#12a5a5"/>
<text x="1417.34" y="708.1" font-size="15.3" fill="#fff" font-weight="bold" textLength="56.44" lengthAdjust="spacingAndGlyphs">102-206</text>
<clipPath id="cv"><rect x="1400" y="900" width="90" height="58.8"/></clipPath>
<path d="M1404 952.3L1412.2 939.4499999999999H1432V965.15H1412.2Z" fill="#2048be" clip-path="url(#cv)"/>
<text x="1417.05" y="956.5" font-size="15.3" fill="#fff" font-weight="bold" textLength="7.59" lengthAdjust="spacingAndGlyphs" clip-path="url(#cv)">1</text>
<path d="M1404 1055.2L1412.2 1042.3500000000001H1470.8V1068.05H1412.2Z" fill="#7d7d14"/>
<text x="1417.83" y="1059.4" font-size="15.3" fill="#fff" font-weight="bold" textLength="46.54" lengthAdjust="spacingAndGlyphs">27-021</text>
</svg>
</body></html>
